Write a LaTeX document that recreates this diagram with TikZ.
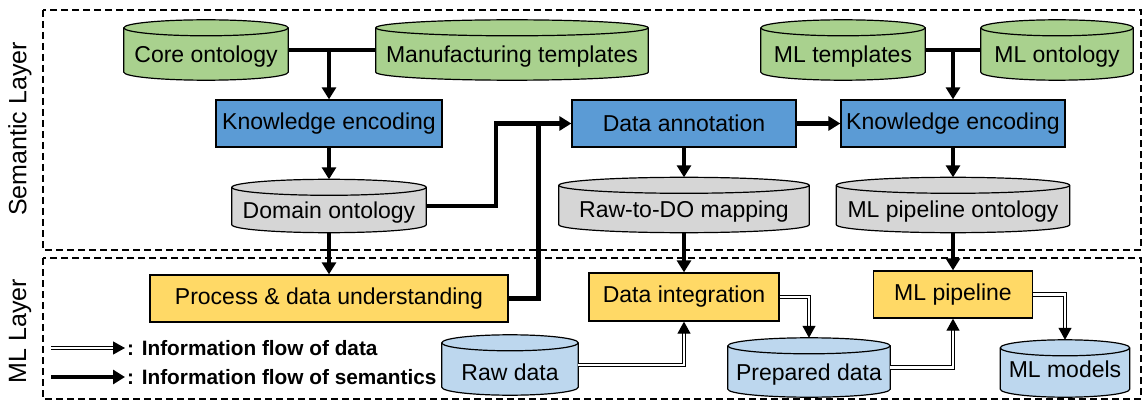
\documentclass[tikz,border=0pt]{standalone}
\usepackage{fontspec}
\setmainfont{Liberation Sans}
\usetikzlibrary{arrows.meta,calc,backgrounds}
\definecolor{cgreen}{HTML}{A9D18E}
\definecolor{cblue}{HTML}{5B9BD5}
\definecolor{cgray}{HTML}{D6D6D6}
\definecolor{cyellow}{HTML}{FFD966}
\definecolor{clblue}{HTML}{BDD7EE}
\newcommand\nfont{\fontsize{23}{27}\selectfont}
\newcommand\lfont{\fontsize{25}{29}\selectfont}
\newcommand\legfont{\fontsize{20.8}{24}\selectfont\bfseries}
\newcommand\cyltext[2][-7pt]{\raisebox{#1}[\height][\depth]{#2}}
\newcommand\drawcyl[2]{%
  \path[fill=#2,draw=black,line width=1.2pt] let \p1=(#1.north west), \p2=(#1.south east), \n1={0.5*(\x2-\x1)} in
    (\x1,\y1-8pt) -- (\x1,\y2+8pt) arc[start angle=180,end angle=360,x radius={\n1*1pt},y radius=8pt]
    -- (\x2,\y1-8pt) arc[start angle=0,end angle=180,x radius={\n1*1pt},y radius=8pt] -- cycle;
  \draw[line width=1.2pt] let \p1=(#1.north west), \p2=(#1.south east), \n1={0.5*(\x2-\x1)} in
    (\x1,\y1-8pt) arc[start angle=180,end angle=360,x radius={\n1*1pt},y radius=8pt];
}
\begin{document}
\begin{tikzpicture}[x=1pt,y=-1pt,
  box/.style={draw=black,line width=1.3pt,inner sep=0pt,font=\nfont},
  cyl/.style={inner sep=0pt,font=\nfont},
  sem/.style={line width=4.5pt,-{Triangle[width=14pt,length=12pt]}},
  semline/.style={line width=4.5pt},
  dat/.style={double,line width=1.1pt,double distance=2.2pt,-{Triangle[width=13pt,length=12pt]}},
  layer/.style={draw=black,line width=1.3pt,dash pattern=on 7pt off 4pt}]
\useasboundingbox (0,0) rectangle (1144,401);
% nodes
\node[cyl,minimum width=164pt,minimum height=60pt] (core) at (206,50) {\cyltext{Core ontology}};
\node[cyl,minimum width=272pt,minimum height=60pt] (mfg) at (512,50) {\cyltext{Manufacturing templates}};
\node[cyl,minimum width=164pt,minimum height=60pt] (mlt) at (843,50) {\cyltext{ML templates}};
\node[cyl,minimum width=152pt,minimum height=60pt] (mlo) at (1057,50) {\cyltext{ML ontology}};
\node[box,fill=cblue,minimum width=226pt,minimum height=47pt] (ke1) at (329,123.5) {Knowledge encoding};
\node[box,fill=cblue,minimum width=224pt,minimum height=47pt] (da) at (684,123.5) {Data annotation};
\node[box,fill=cblue,minimum width=224pt,minimum height=47pt] (ke2) at (953,123.5) {Knowledge encoding};
\node[cyl,minimum width=194pt,minimum height=53pt] (dom) at (329,206) {\cyltext{Domain ontology}};
\node[cyl,minimum width=250pt,minimum height=55pt] (r2do) at (684,205) {\cyltext{Raw-to-DO mapping}};
\node[cyl,minimum width=233pt,minimum height=55pt] (mpo) at (953,205) {\cyltext{ML pipeline ontology}};
\node[box,fill=cyellow,minimum width=358pt,minimum height=47pt] (proc) at (329,298.5) {Process \& data understanding};
\node[box,fill=cyellow,minimum width=190pt,minimum height=48pt] (di) at (684,297) {Data integration};
\node[box,fill=cyellow,minimum width=159pt,minimum height=47pt] (mlp) at (953,294.5) {ML pipeline};
\node[cyl,minimum width=136pt,minimum height=60pt] (raw) at (510,365) {\cyltext{Raw data}};
\node[cyl,minimum width=162pt,minimum height=59pt] (prep) at (809,367.5) {\cyltext{Prepared data}};
\node[cyl,minimum width=129pt,minimum height=57pt] (mlm) at (1065,368.5) {\cyltext[-1pt]{ML models}};
% layer labels
\node[rotate=90,font=\lfont] (semlab) at (20,129) {Semantic Layer};
\node[rotate=90,font=\lfont] (mllab) at (20,331) {ML Layer};
% legend
\coordinate (l1a) at (51,348); \coordinate (l1b) at (125,348);
\coordinate (l2a) at (51,377); \coordinate (l2b) at (125,377);
\node[anchor=west,font=\legfont,inner sep=0pt] (leg1) at (127,348) {: Information flow of data};
\node[anchor=west,font=\legfont,inner sep=0pt] (leg2) at (127,377) {: Information flow of semantics};
% background
\begin{scope}[on background layer]
\draw[layer] (43,10) rectangle (1141,250);
\draw[layer] (43,258) rectangle (1141,399);
\drawcyl{core}{cgreen}
\drawcyl{mfg}{cgreen}
\drawcyl{mlt}{cgreen}
\drawcyl{mlo}{cgreen}
\drawcyl{dom}{cgray}
\drawcyl{r2do}{cgray}
\drawcyl{mpo}{cgray}
\drawcyl{raw}{clblue}
\drawcyl{prep}{clblue}
\drawcyl{mlm}{clblue}
\end{scope}
% semantic connectors
\draw[semline] (core.east) -- (mfg.west);
\draw[sem] (core.east -| ke1.north) -- (ke1.north);
\draw[sem] (ke1.south) -- (dom.north);
\draw[sem] (dom.east) -- ++(70,0) |- (da.west);
\draw[semline] (proc.east) -| ($(da.west)+(-33,0)$);
\draw[sem] (dom.south) -- (proc.north);
\draw[sem] (da.south) -- (r2do.north);
\draw[sem] (da.east) -- (ke2.west);
\draw[semline] (mlt.east) -- (mlo.west);
\draw[sem] (mlt.east -| ke2.north) -- (ke2.north);
\draw[sem] (ke2.south) -- (mpo.north);
\draw[sem] (r2do.south) -- (di.north);
\draw[sem] (mpo.south) -- (mlp.north);
% data connectors
\draw[dat] (raw.east) -| (di.south);
\draw[dat] (di.east) -| (prep.north);
\draw[dat] (prep.east) -| (mlp.south);
\draw[dat] (mlp.east) -| (mlm.north);
% legend arrows
\draw[dat] (l1a) -- (l1b);
\draw[sem] (l2a) -- (l2b);
\end{tikzpicture}
\end{document}
